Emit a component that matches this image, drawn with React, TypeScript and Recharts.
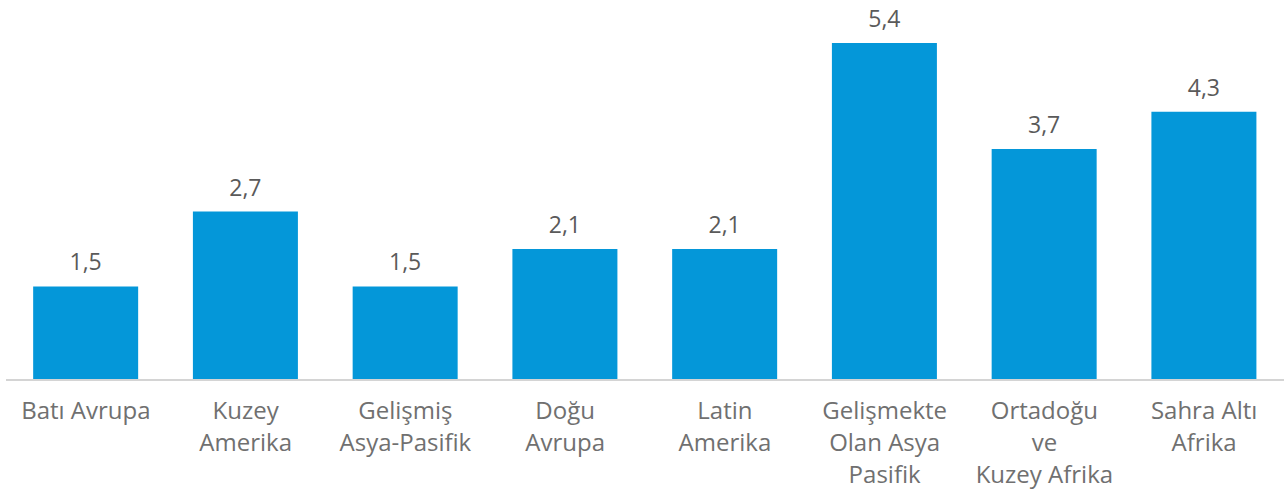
import React from 'react';
import { BarChart, Bar, XAxis, YAxis, LabelList } from 'recharts';

// region names, line breaks as in the original figure
const regions = [
  'Batı Avrupa',
  'Kuzey\nAmerika',
  'Gelişmiş\nAsya-Pasifik',
  'Doğu\nAvrupa',
  'Latin\nAmerika',
  'Gelişmekte\nOlan Asya\nPasifik',
  'Ortadoğu\nve\nKuzey Afrika',
  'Sahra Altı\nAfrika',
];

const growth = [1.5, 2.7, 1.5, 2.1, 2.1, 5.4, 3.7, 4.3];

const data = regions.map((region, i) => ({ region, value: growth[i] }));

const fmt = (v: number) => v.toFixed(1).replace('.', ',');

const FONT = '"Open Sans", sans-serif';

const RegionTick = (props: any) => {
  const { x, y, payload } = props;
  const lines = String(payload.value).split('\n');
  return (
    <text x={x} y={y} textAnchor="middle" fill="#707070" fontSize={24} fontFamily={FONT}>
      {lines.map((line, i) => (
        <tspan key={i} x={x} dy={i === 0 ? 31 : 32}>
          {line}
        </tspan>
      ))}
    </text>
  );
};

export default function App() {
  return (
    <div style={{ position: 'absolute', left: 0, top: 0, background: '#fff' }}>
      <BarChart
        width={1285}
        height={495}
        data={data}
        margin={{ top: 43, right: 1, left: 6, bottom: 0 }}
        barCategoryGap="17%"
      >
        <XAxis
          dataKey="region"
          interval={0}
          height={115}
          tickLine={false}
          axisLine={{ stroke: '#d4d4d4', strokeWidth: 2 }}
          tick={<RegionTick />}
        />
        <YAxis hide domain={[0, 5.4]} />
        <Bar dataKey="value" fill="#0497d9" isAnimationActive={false}>
          <LabelList
            dataKey="value"
            position="top"
            offset={16}
            formatter={(v: any) => fmt(Number(v))}
            style={{ fill: '#5a5a5a', fontSize: 23, fontFamily: FONT }}
          />
        </Bar>
      </BarChart>
    </div>
  );
}
